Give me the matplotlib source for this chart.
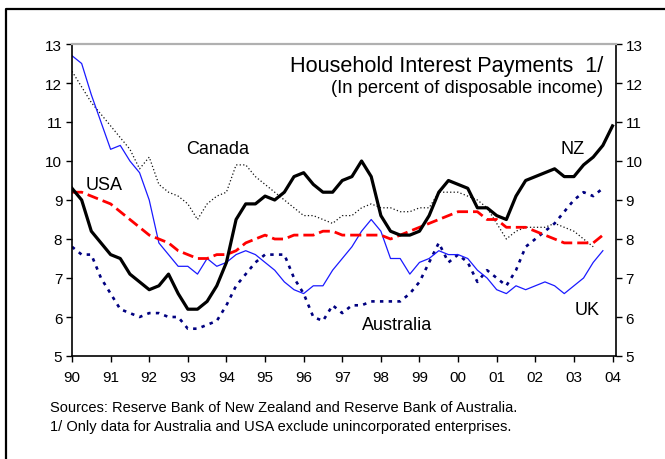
import numpy as np
import matplotlib
matplotlib.use("Agg")
import matplotlib.pyplot as plt
from matplotlib.lines import Line2D

plt.rcParams['font.family'] = ['Liberation Sans', 'DejaVu Sans']

# quarterly data, 1990Q1 onwards (percent of disposable income)
nz = [9.3, 9.0, 8.2, 7.9, 7.6, 7.5, 7.1, 6.9, 6.7, 6.8, 7.1, 6.6,
      6.2, 6.2, 6.4, 6.8, 7.4, 8.5, 8.9, 8.9, 9.1, 9.0, 9.2, 9.6,
      9.7, 9.4, 9.2, 9.2, 9.5, 9.6, 10.0, 9.6, 8.6, 8.2, 8.1, 8.1,
      8.2, 8.6, 9.2, 9.5, 9.4, 9.3, 8.8, 8.8, 8.6, 8.5, 9.1, 9.5,
      9.6, 9.7, 9.8, 9.6, 9.6, 9.9, 10.1, 10.4, 10.9]
uk = [12.7, 12.5, 11.7, 11.0, 10.3, 10.4, 10.0, 9.7, 9.0, 7.9, 7.6, 7.3,
      7.3, 7.1, 7.5, 7.3, 7.4, 7.6, 7.7, 7.6, 7.4, 7.2, 6.9, 6.7,
      6.6, 6.8, 6.8, 7.2, 7.5, 7.8, 8.2, 8.5, 8.2, 7.5, 7.5, 7.1,
      7.4, 7.5, 7.7, 7.6, 7.6, 7.5, 7.2, 7.0, 6.7, 6.6, 6.8, 6.7,
      6.8, 6.9, 6.8, 6.6, 6.8, 7.0, 7.4, 7.7]
usa = [9.2, 9.2, 9.1, 9.0, 8.9, 8.7, 8.5, 8.3, 8.1, 8.0, 7.9, 7.7,
       7.6, 7.5, 7.5, 7.6, 7.6, 7.7, 7.9, 8.0, 8.1, 8.0, 8.0, 8.1,
       8.1, 8.1, 8.2, 8.2, 8.1, 8.1, 8.1, 8.1, 8.1, 8.0, 8.1, 8.2,
       8.3, 8.4, 8.5, 8.6, 8.7, 8.7, 8.7, 8.5, 8.5, 8.3, 8.3, 8.3,
       8.2, 8.1, 8.0, 7.9, 7.9, 7.9, 7.9, 8.1]
canada = [12.3, 11.9, 11.5, 11.2, 10.9, 10.6, 10.3, 9.8, 10.1, 9.4, 9.2, 9.1,
          8.9, 8.5, 8.9, 9.1, 9.2, 9.9, 9.9, 9.6, 9.4, 9.2, 9.0, 8.8,
          8.6, 8.6, 8.5, 8.4, 8.6, 8.6, 8.8, 8.9, 8.8, 8.8, 8.7, 8.7,
          8.8, 8.8, 9.2, 9.2, 9.2, 9.1, 9.0, 8.8, 8.4, 8.0, 8.2, 8.3,
          8.3, 8.3, 8.4, 8.3, 8.2, 8.0, 7.8]
australia = [7.8, 7.6, 7.6, 7.0, 6.6, 6.2, 6.1, 6.0, 6.1, 6.1, 6.0, 6.0,
             5.7, 5.7, 5.8, 5.9, 6.3, 6.8, 7.1, 7.4, 7.6, 7.6, 7.6, 7.0,
             6.6, 6.0, 5.9, 6.3, 6.1, 6.3, 6.3, 6.4, 6.4, 6.4, 6.4, 6.6,
             6.9, 7.4, 7.9, 7.4, 7.6, 7.4, 6.9, 7.2, 7.0, 6.8, 7.2, 7.8,
             8.0, 8.2, 8.4, 8.7, 9.0, 9.2, 9.1, 9.3]

years = list(range(1990, 2005))
year_labels = ['90', '91', '92', '93', '94', '95', '96', '97', '98', '99',
               '00', '01', '02', '03', '04']


def qx(series):
    return 1990 + np.arange(len(series)) / 4.0


fig = plt.figure(figsize=(6.65, 4.6), dpi=100)
ax = fig.add_axes([72 / 665, 1 - 357 / 460, 544 / 665, 312 / 460])

ax.plot(qx(canada), canada, color='#111111', lw=0.9, ls=(0, (1, 1.8)))
ax.plot(qx(australia), australia, color='#000080', lw=1.9, ls=(0, (1.3, 2.0)))
ax.plot(qx(uk), uk, color='#1a1aff', lw=0.9)
ax.plot(qx(usa), usa, color='#ff0000', lw=2.0, ls=(0, (4, 1.8)))
ax.plot(qx(nz), nz, color='black', lw=2.3)

ax.set_xlim(1990, 2004.09)
ax.set_ylim(5, 13)
ax.set_xticks(years)
ax.set_xticklabels(year_labels)
ax.set_yticks(range(5, 14))
ax.tick_params(axis='both', direction='out', length=4, width=1, labelsize=11,
               right=True, labelright=True, pad=3)
ax.tick_params(axis='x', pad=6)

for side in ['left', 'right', 'bottom']:
    ax.spines[side].set_linewidth(1.2)
    ax.spines[side].set_color('black')
ax.spines['top'].set_color('#b0b0b0')
ax.spines['top'].set_linewidth(1.6)

ax.text(2003.76, 12.32, 'Household Interest Payments  1/', ha='right',
        va='baseline', fontsize=15.6)
ax.text(2003.76, 11.76, '(In percent of disposable income)', ha='right',
        va='baseline', fontsize=13.2)

ax.text(1993.78, 10.31, 'Canada', ha='center', va='center', fontsize=13)
ax.text(1990.82, 9.41, 'USA', ha='center', va='center', fontsize=13)
ax.text(2002.97, 10.31, 'NZ', ha='center', va='center', fontsize=13)
ax.text(1998.43, 5.82, 'Australia', ha='center', va='center', fontsize=13)
ax.text(2003.34, 6.2, 'UK', ha='center', va='center', fontsize=13)

fig.text(50 / 665, 1 - 408 / 460,
         'Sources: Reserve Bank of New Zealand and Reserve Bank of Australia.',
         ha='left', va='center', fontsize=10.5)
fig.text(50 / 665, 1 - 427 / 460,
         '1/ Only data for Australia and USA exclude unincorporated enterprises.',
         ha='left', va='center', fontsize=10.5)

# outer box (cropped)
fig.add_artist(Line2D([6 / 665, 6 / 665, 1.0], [0.0, 1 - 10 / 460, 1 - 10 / 460],
                      color='black', lw=1.6, transform=fig.transFigure))

fig.savefig('out.png', dpi=100)
